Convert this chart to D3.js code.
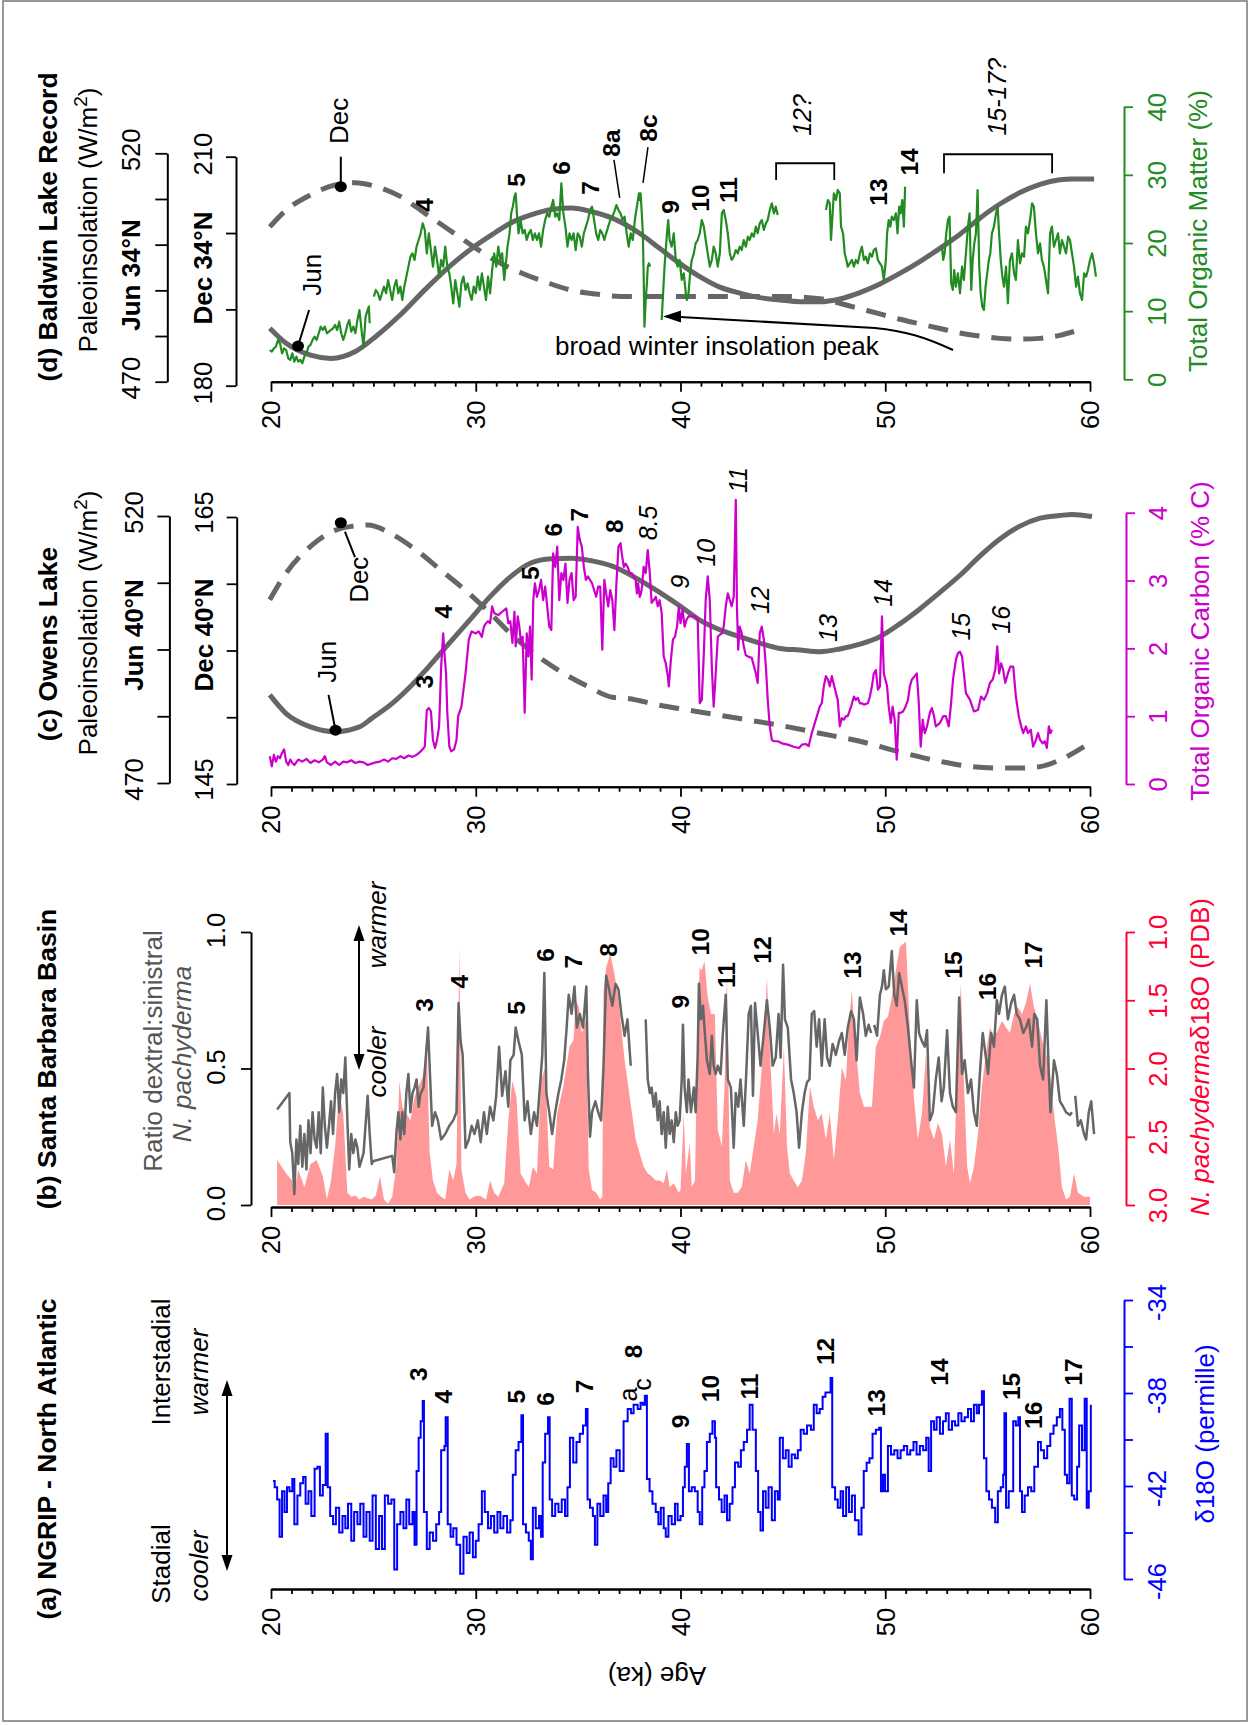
<!DOCTYPE html>
<html><head><meta charset="utf-8">
<script src="https://cdn.jsdelivr.net/npm/d3@7"></script>
<style>body{margin:0;background:#fff}svg{display:block}text{font-family:"Liberation Sans",Arial,Helvetica,sans-serif}</style>
</head><body><svg id="c" width="1249" height="1725"></svg>
<script>
// ---------------- DATA ----------------
const ageMajorTicks = [20,30,40,50,60];
const ageMinorTicks = [21,22,23,24,25,26,27,28,29,31,32,33,34,35,36,37,38,39,41,42,43,44,45,46,47,48,49,51,52,53,54,55,56,57,58,59];
const ngripTicks = [-34,-36,-38,-40,-42,-44,-46];
const ngripLabelTicks = [-34,-38,-42,-46];
const ratioTicks = [0,0.5,1.0];
const pachTicks = [1.0,1.5,2.0,2.5,3.0];
const junCTicks = [470,482.5,495,507.5,520];
const decCTicks = [145,150,155,160,165];
const tocTicks = [0,1,2,3,4];
const junDTicks = [470,480,490,500,510,520];
const decDTicks = [180,190,200,210];
const tomTicks = [0,10,20,30,40];

// (a) NGRIP d18O [age ka, permille]
const ngrip = [[20.10,-41.79],[20.18,-42.05],[20.30,-42.58],[20.42,-44.18],[20.54,-42.23],[20.66,-43.12],[20.78,-42.05],[20.90,-42.23],[21.04,-41.70],[21.14,-43.65],[21.29,-42.41],[21.43,-41.88],[21.57,-41.61],[21.69,-42.76],[21.83,-42.23],[21.97,-43.29],[22.13,-41.26],[22.27,-41.17],[22.39,-42.41],[22.53,-41.96],[22.67,-39.75],[22.77,-42.05],[22.89,-43.29],[23.03,-43.65],[23.17,-42.94],[23.33,-44.0],[23.49,-43.29],[23.63,-43.82],[23.76,-42.76],[23.92,-44.35],[24.06,-43.12],[24.22,-43.65],[24.36,-42.76],[24.52,-44.18],[24.66,-43.12],[24.82,-44.35],[24.96,-42.41],[25.12,-44.71],[25.28,-43.29],[25.42,-44.71],[25.56,-42.41],[25.72,-42.76],[25.88,-42.58],[26.02,-45.59],[26.16,-43.65],[26.32,-43.12],[26.47,-43.82],[26.61,-42.58],[26.75,-43.65],[26.91,-43.12],[27.01,-44.53],[27.11,-41.35],[27.21,-39.93],[27.31,-39.22],[27.41,-38.34],[27.47,-43.12],[27.61,-44.71],[27.75,-44.0],[27.91,-44.35],[28.07,-43.65],[28.21,-43.12],[28.31,-40.46],[28.47,-40.28],[28.53,-39.04],[28.63,-43.65],[28.77,-44.18],[28.90,-43.82],[29.06,-44.53],[29.24,-45.77],[29.40,-44.18],[29.56,-44.88],[29.70,-44.0],[29.86,-45.06],[30.0,-44.35],[30.14,-43.65],[30.30,-42.23],[30.44,-43.12],[30.60,-43.82],[30.74,-43.29],[30.90,-44.0],[31.06,-43.12],[31.20,-43.82],[31.35,-43.29],[31.53,-44.0],[31.69,-43.47],[31.81,-41.52],[31.95,-40.46],[32.09,-40.11],[32.23,-38.96],[32.31,-43.65],[32.45,-44.0],[32.59,-44.35],[32.69,-45.15],[32.79,-42.94],[32.93,-43.82],[33.09,-43.29],[33.19,-44.18],[33.27,-40.99],[33.39,-39.75],[33.53,-39.04],[33.61,-42.58],[33.73,-43.29],[33.88,-42.76],[34.04,-43.12],[34.20,-42.58],[34.36,-43.29],[34.48,-42.05],[34.60,-39.93],[34.76,-40.99],[34.92,-40.11],[35.08,-39.75],[35.24,-39.40],[35.38,-38.69],[35.46,-42.58],[35.58,-42.94],[35.72,-43.29],[35.82,-44.53],[35.94,-42.76],[36.08,-43.29],[36.24,-42.41],[36.37,-43.12],[36.47,-41.88],[36.59,-40.81],[36.73,-41.17],[36.87,-40.46],[37.03,-41.35],[37.22,-39.22],[37.42,-38.69],[37.58,-38.87],[37.71,-38.51],[37.91,-38.69],[38.05,-38.42],[38.16,-38.51],[38.26,-38.12],[38.36,-41.70],[38.49,-42.23],[38.63,-42.76],[38.79,-43.12],[38.92,-43.65],[39.04,-42.94],[39.18,-43.82],[39.28,-44.18],[39.41,-43.29],[39.57,-43.65],[39.73,-42.76],[39.86,-43.47],[40.0,-43.29],[40.12,-42.05],[40.21,-41.17],[40.31,-40.19],[40.41,-42.23],[40.55,-42.05],[40.70,-42.23],[40.84,-43.12],[40.94,-43.65],[41.06,-42.05],[41.17,-41.35],[41.29,-40.11],[41.43,-39.75],[41.56,-39.22],[41.68,-39.93],[41.74,-42.05],[41.88,-42.58],[42.01,-43.12],[42.15,-42.41],[42.27,-43.47],[42.40,-42.76],[42.54,-42.05],[42.66,-40.99],[42.82,-41.17],[42.95,-40.46],[43.09,-40.11],[43.25,-39.58],[43.38,-38.51],[43.52,-39.58],[43.68,-41.35],[43.79,-43.12],[43.91,-43.91],[44.03,-42.23],[44.16,-42.94],[44.30,-42.05],[44.46,-43.47],[44.61,-42.23],[44.75,-42.58],[44.85,-39.93],[45.00,-40.81],[45.14,-40.46],[45.28,-41.17],[45.43,-40.64],[45.59,-40.81],[45.73,-40.46],[45.87,-39.58],[46.02,-39.75],[46.18,-39.40],[46.37,-39.58],[46.51,-38.51],[46.65,-38.87],[46.80,-38.69],[46.94,-38.16],[47.08,-37.98],[47.19,-37.98],[47.33,-37.36],[47.41,-42.05],[47.55,-42.58],[47.68,-42.94],[47.82,-42.23],[47.94,-43.29],[48.09,-42.05],[48.23,-43.12],[48.37,-42.41],[48.52,-43.47],[48.70,-44.09],[48.84,-42.94],[48.95,-41.35],[49.09,-41.0],[49.23,-40.81],[49.38,-39.75],[49.54,-39.58],[49.70,-39.49],[49.79,-42.23],[49.89,-41.52],[49.99,-42.23],[50.13,-40.28],[50.28,-40.64],[50.44,-40.46],[50.60,-40.81],[50.75,-40.46],[50.91,-40.28],[51.07,-40.64],[51.22,-40.46],[51.38,-40.11],[51.53,-40.64],[51.69,-40.28],[51.85,-40.46],[52.0,-39.93],[52.12,-41.35],[52.24,-39.22],[52.38,-39.58],[52.51,-39.04],[52.67,-39.75],[52.82,-39.22],[52.96,-38.87],[53.10,-39.58],[53.26,-39.22],[53.41,-39.40],[53.57,-38.87],[53.72,-39.22],[53.88,-39.04],[54.04,-38.69],[54.19,-39.22],[54.33,-38.51],[54.47,-38.87],[54.58,-38.51],[54.72,-37.93],[54.82,-40.81],[54.94,-42.23],[55.07,-42.58],[55.21,-42.94],[55.37,-43.56],[55.50,-42.23],[55.64,-42.05],[55.76,-41.52],[55.82,-38.87],[55.90,-42.94],[56.03,-42.23],[56.15,-42.23],[56.25,-39.22],[56.38,-39.40],[56.50,-39.04],[56.58,-42.23],[56.68,-43.12],[56.81,-42.41],[56.97,-42.05],[57.13,-42.23],[57.28,-41.17],[57.46,-40.11],[57.60,-40.46],[57.75,-40.81],[57.91,-40.28],[58.06,-39.75],[58.22,-39.40],[58.38,-39.04],[58.53,-38.69],[58.65,-39.58],[58.77,-41.52],[58.88,-41.88],[59.00,-38.25],[59.11,-42.41],[59.23,-42.58],[59.37,-41.17],[59.47,-39.40],[59.61,-40.46],[59.74,-38.25],[59.84,-42.94],[59.94,-42.23],[60.04,-38.51]];

// (b) N. pachyderma d18O (PDB) [age, permille]
const pachD18O = [[20.30,2.67],[20.74,2.77],[21.04,2.82],[21.14,2.91],[21.33,2.74],[21.63,2.87],[21.93,2.70],[22.23,2.67],[22.53,2.79],[22.73,2.96],[22.93,2.82],[23.13,2.57],[23.33,2.18],[23.53,2.33],[23.73,2.91],[23.92,2.94],[24.12,2.93],[24.32,2.96],[24.52,2.94],[24.72,2.95],[24.92,2.96],[25.12,2.93],[25.32,2.79],[25.52,2.96],[25.72,2.99],[25.92,2.94],[26.12,2.72],[26.27,2.09],[26.41,2.28],[26.61,2.33],[26.81,2.38],[27.01,2.21],[27.21,2.13],[27.41,2.06],[27.61,1.84],[27.75,2.62],[27.91,2.82],[28.11,2.91],[28.31,2.94],[28.51,2.96],[28.71,2.74],[28.90,2.82],[29.06,2.70],[29.20,1.11],[29.30,2.74],[29.50,2.91],[29.70,2.96],[29.90,2.94],[30.10,2.93],[30.30,2.94],[30.50,2.96],[30.70,2.82],[30.90,2.91],[31.10,2.94],[31.39,2.84],[31.59,2.38],[31.79,2.09],[31.99,2.21],[32.19,2.77],[32.39,2.82],[32.59,2.87],[32.79,2.72],[32.99,2.77],[33.19,2.09],[33.39,1.99],[33.59,2.72],[33.78,2.74],[33.98,2.33],[34.28,2.13],[34.58,1.84],[34.78,1.79],[34.88,1.50],[35.04,1.55],[35.18,1.74],[35.38,1.65],[35.52,2.74],[35.68,2.89],[35.88,2.91],[36.08,2.96],[36.18,2.94],[36.24,1.43],[36.37,1.26],[36.57,1.16],[36.77,1.30],[36.97,1.50],[37.27,1.94],[37.81,2.52],[38.20,2.72],[38.40,2.77],[38.59,2.79],[38.79,2.82],[38.98,2.82],[39.18,2.84],[39.34,2.74],[39.47,2.87],[39.67,2.84],[39.92,2.91],[40.0,2.89],[40.16,2.33],[40.26,2.77],[40.45,2.55],[40.55,2.87],[40.71,2.82],[40.84,1.60],[40.94,1.26],[41.04,1.28],[41.17,1.21],[41.33,1.48],[41.49,1.60],[41.68,1.60],[41.82,2.45],[42.02,2.57],[42.15,2.13],[42.27,1.30],[42.41,2.82],[42.60,2.91],[42.80,2.91],[42.99,2.87],[43.19,2.67],[43.38,2.77],[43.58,2.57],[43.77,2.38],[43.97,1.99],[44.11,1.72],[44.22,1.33],[44.36,1.84],[44.56,2.48],[44.69,2.33],[44.85,2.48],[45.05,1.84],[45.20,2.57],[45.34,2.77],[45.53,2.82],[45.73,2.87],[45.93,2.82],[46.12,2.62],[46.32,2.13],[46.51,2.28],[46.71,2.38],[46.90,2.33],[47.10,2.52],[47.29,2.33],[47.49,2.67],[47.68,2.38],[47.88,1.99],[48.08,2.09],[48.21,1.70],[48.37,1.43],[48.56,1.84],[48.76,2.18],[48.96,2.28],[49.15,2.28],[49.35,2.28],[49.54,1.84],[49.74,1.77],[49.93,1.65],[50.13,1.62],[50.32,1.48],[50.52,1.28],[50.71,1.11],[51.01,1.07],[51.20,1.72],[51.40,2.21],[51.59,2.52],[51.79,2.33],[51.99,1.89],[52.18,2.43],[52.38,2.52],[52.57,2.40],[52.77,2.48],[52.96,2.72],[53.16,2.52],[53.35,2.77],[53.55,1.84],[53.69,1.38],[53.84,2.09],[54.0,2.72],[54.14,2.84],[54.33,2.72],[54.53,2.48],[54.72,2.13],[54.92,1.89],[55.11,1.70],[55.31,1.77],[55.50,1.72],[55.70,1.65],[55.90,1.70],[56.09,1.74],[56.29,1.60],[56.48,1.55],[56.68,1.60],[56.87,1.52],[57.07,1.38],[57.26,1.55],[57.46,1.65],[57.65,1.79],[57.85,1.89],[58.05,2.04],[58.24,2.33],[58.44,2.57],[58.63,2.87],[58.83,2.96],[59.02,2.94],[59.22,2.77],[59.41,2.91],[59.71,2.94],[60.0,2.94]];

// (b) Ratio dextral:sinistral N. pachyderma [age, ratio]; null = gap
const sbbRatio = [[20.30,0.35],[20.90,0.41],[20.94,0.23],[21.04,0.19],[21.14,0.04],[21.24,0.24],[21.33,0.15],[21.43,0.29],[21.53,0.14],[21.63,0.26],[21.73,0.13],[21.83,0.31],[21.93,0.19],[22.03,0.34],[22.13,0.24],[22.23,0.21],[22.33,0.34],[22.43,0.19],[22.53,0.43],[22.63,0.29],[22.73,0.21],[22.83,0.29],[22.93,0.38],[23.03,0.26],[23.13,0.41],[23.23,0.48],[23.33,0.34],[23.43,0.46],[23.53,0.41],[23.63,0.54],[23.73,0.31],[23.82,0.13],[23.92,0.26],[24.02,0.19],[24.12,0.24],[24.22,0.21],[24.32,0.14],[24.52,0.19],[24.72,0.40],[24.82,0.26],[24.92,0.15],[24.98,0.16],[25.92,0.18],[26.02,0.12],[26.12,0.26],[26.22,0.34],[26.32,0.24],[26.41,0.34],[26.51,0.26],[26.61,0.41],[26.71,0.48],[26.81,0.34],[26.91,0.41],[27.01,0.43],[27.11,0.46],[27.21,0.36],[27.31,0.41],[27.45,0.43],[27.67,0.65],[27.87,0.29],[28.01,0.34],[28.15,0.31],[28.31,0.24],[28.51,0.26],[28.71,0.29],[28.90,0.31],[29.06,0.34],[29.16,0.74],[29.26,0.60],[29.36,0.55],[29.50,0.21],[29.66,0.24],[29.80,0.29],[29.94,0.26],[30.10,0.31],[30.24,0.23],[30.40,0.34],[30.54,0.26],[30.70,0.36],[30.86,0.31],[31.0,0.40],[31.14,0.58],[31.29,0.40],[31.45,0.49],[31.59,0.36],[31.69,0.53],[31.85,0.55],[31.95,0.65],[32.09,0.60],[32.25,0.55],[32.39,0.31],[32.53,0.38],[32.69,0.26],[32.85,0.34],[32.99,0.29],[33.13,0.43],[33.25,0.55],[33.35,0.85],[33.45,0.41],[33.59,0.34],[33.73,0.26],[33.88,0.34],[34.04,0.41],[34.18,0.46],[34.32,0.53],[34.44,0.65],[34.54,0.77],[34.68,0.70],[34.82,0.80],[34.94,0.65],[35.08,0.70],[35.24,0.65],[35.40,0.80],[35.48,0.48],[35.58,0.25],[35.68,0.34],[35.84,0.38],[35.98,0.34],[36.12,0.31],[36.24,0.51],[36.37,0.84],[36.51,0.79],[36.67,0.73],[36.83,0.81],[36.97,0.79],[37.11,0.70],[37.27,0.62],[37.41,0.68],[37.57,0.51],null,[38.30,0.68],[38.40,0.46],[38.50,0.41],[38.59,0.43],[38.69,0.36],[38.79,0.41],[38.89,0.31],[38.98,0.38],[39.08,0.26],[39.18,0.34],[39.28,0.21],[39.38,0.36],[39.47,0.26],[39.57,0.31],[39.67,0.23],[39.77,0.34],[39.86,0.29],[39.96,0.31],[40.06,0.46],[40.12,0.66],[40.20,0.43],[40.31,0.34],[40.39,0.46],[40.51,0.34],[40.65,0.43],[40.74,0.34],[40.84,0.55],[40.90,0.81],[41.0,0.68],[41.10,0.73],[41.17,0.65],[41.29,0.53],[41.43,0.48],[41.53,0.62],[41.62,0.51],[41.72,0.48],[41.82,0.51],[41.96,0.48],[42.07,0.63],[42.21,0.77],[42.31,0.46],[42.46,0.43],[42.60,0.21],[42.70,0.41],[42.82,0.36],[42.93,0.46],[43.09,0.29],[43.21,0.48],[43.33,0.70],[43.44,0.73],[43.54,0.40],[43.64,0.74],[43.77,0.63],[43.91,0.51],[44.07,0.63],[44.22,0.75],[44.36,0.65],[44.50,0.51],[44.65,0.54],[44.79,0.70],[44.89,0.54],[45.01,0.88],[45.10,0.68],[45.24,0.65],[45.40,0.46],[45.53,0.41],[45.67,0.34],[45.79,0.21],[45.93,0.34],[46.06,0.41],[46.18,0.45],[46.30,0.46],[46.41,0.70],[46.53,0.71],[46.65,0.58],[46.77,0.68],[46.90,0.51],[47.04,0.68],[47.16,0.54],[47.29,0.51],[47.43,0.59],[47.59,0.55],[47.74,0.60],[47.88,0.63],[48.02,0.55],[48.17,0.65],[48.33,0.71],[48.47,0.68],[48.60,0.53],[48.76,0.76],[48.92,0.70],[49.05,0.62],[49.19,0.66],[49.31,0.63],null,[49.46,0.66],[49.60,0.62],[49.74,0.77],[49.84,0.80],[49.93,0.86],[50.03,0.79],[50.17,0.80],[50.32,0.93],[50.44,0.77],[50.56,0.73],[50.68,0.85],[50.81,0.80],[50.95,0.75],[51.11,0.65],[51.26,0.53],[51.40,0.43],[51.54,0.75],[51.65,0.63],[51.79,0.60],[51.93,0.58],[52.04,0.64],[52.18,0.31],[52.32,0.34],[52.47,0.46],[52.61,0.54],[52.75,0.38],[52.86,0.43],[53.02,0.64],[53.16,0.41],[53.30,0.36],[53.45,0.34],[53.61,0.76],[53.75,0.48],[53.88,0.53],[54.04,0.41],[54.19,0.46],[54.33,0.34],[54.47,0.29],[54.62,0.48],[54.76,0.63],[54.90,0.55],[55.02,0.48],[55.17,0.63],[55.31,0.58],[55.45,0.75],[55.56,0.70],[55.70,0.77],[55.84,0.80],[55.99,0.68],[56.15,0.74],[56.29,0.77],[56.42,0.70],[56.58,0.68],[56.74,0.63],[56.87,0.65],[57.01,0.68],[57.17,0.58],[57.28,0.70],[57.42,0.68],[57.56,0.51],[57.71,0.46],[57.87,0.75],[57.99,0.48],[58.07,0.34],[58.24,0.53],[58.38,0.48],[58.53,0.38],[58.69,0.36],[58.83,0.34],[59.02,0.33],[59.12,0.34],null,[59.28,0.40],[59.41,0.29],[59.55,0.31],[59.71,0.26],[59.81,0.24],[59.94,0.34],[60.06,0.38],[60.20,0.26]];

// (c) Owens Lake insolation 40N: June (W/m2) and December (W/m2)
const junOwens = [[19.94,486.5],[20.74,483.0],[21.93,480.5],[23.13,479.6],[24.32,480.5],[24.92,482.1],[25.92,484.9],[26.71,487.7],[27.71,491.8],[28.71,496.2],[29.70,500.5],[30.70,504.9],[31.69,508.6],[32.69,511.2],[33.69,512.0],[34.68,512.1],[35.68,511.6],[36.67,510.6],[38.0,508.0],[38.98,505.7],[39.96,503.2],[40.94,500.5],[41.92,498.7],[42.89,497.4],[43.87,496.2],[44.85,495.2],[45.83,494.9],[46.80,494.6],[47.78,495.1],[48.76,496.0],[49.74,497.4],[50.71,499.8],[51.69,502.6],[52.67,505.7],[53.65,508.9],[54.62,512.5],[55.6,515.7],[56.58,518.1],[57.56,519.6],[58.53,520.1],[59.12,520.3],[60.1,519.9]];
const decOwens = [[19.94,158.8],[20.74,160.8],[21.93,162.8],[23.13,164.0],[23.92,164.3],[24.72,164.4],[25.92,163.7],[27.11,162.5],[28.31,161.0],[29.50,159.5],[30.70,157.8],[31.89,156.0],[33.09,154.5],[34.28,153.3],[35.48,152.3],[36.67,151.5],[37.42,151.4],[38.98,150.9],[40.94,150.4],[42.89,149.9],[44.85,149.4],[46.80,148.8],[48.76,148.2],[50.71,147.4],[52.67,146.7],[54.23,146.3],[55.6,146.2],[56.58,146.2],[57.56,146.3],[58.53,146.8],[59.71,147.8]];

// (c) Owens Lake total organic carbon (% C)
const owensTOC = [[19.94,0.41],[20.04,0.26],[20.14,0.43],[20.24,0.33],[20.34,0.41],[20.44,0.38],[20.54,0.46],[20.64,0.51],[20.74,0.33],[20.84,0.28],[20.94,0.36],[21.04,0.31],[21.14,0.28],[21.33,0.36],[21.53,0.33],[21.73,0.37],[21.93,0.31],[22.13,0.35],[22.33,0.32],[22.53,0.36],[22.63,0.41],[22.73,0.32],[22.93,0.28],[23.13,0.33],[23.33,0.28],[23.53,0.33],[23.73,0.32],[23.92,0.35],[24.12,0.31],[24.32,0.33],[24.52,0.32],[24.72,0.28],[24.92,0.30],[25.12,0.32],[25.32,0.33],[25.52,0.36],[25.72,0.33],[25.92,0.38],[26.12,0.37],[26.32,0.41],[26.51,0.38],[26.71,0.42],[26.91,0.40],[27.11,0.43],[27.31,0.48],[27.51,0.55],[27.61,1.09],[27.71,1.12],[27.81,1.07],[27.91,0.65],[28.01,0.53],[28.11,0.65],[28.21,0.85],[28.31,1.73],[28.41,2.22],[28.47,1.93],[28.55,1.63],[28.61,1.05],[28.71,0.55],[28.80,0.48],[28.94,0.51],[29.06,0.65],[29.14,1.0],[29.30,1.14],[29.50,1.63],[29.66,2.13],[29.80,2.25],[30.0,2.22],[30.14,2.25],[30.30,2.17],[30.40,2.32],[30.50,2.37],[30.60,2.40],[30.70,2.37],[30.80,2.62],[30.90,2.52],[31.10,2.49],[31.29,2.54],[31.49,2.59],[31.59,2.37],[31.69,2.40],[31.79,2.08],[31.89,2.54],[31.95,2.03],[32.05,2.47],[32.13,2.32],[32.21,2.08],[32.29,2.17],[32.39,1.05],[32.49,2.22],[32.57,1.88],[32.65,2.32],[32.73,1.54],[32.81,2.71],[32.89,2.96],[32.99,2.76],[33.09,2.86],[33.19,3.01],[33.29,2.71],[33.39,2.91],[33.49,2.62],[33.59,2.32],[33.69,2.27],[33.78,3.40],[33.88,3.20],[33.98,3.50],[34.08,2.71],[34.18,3.11],[34.28,3.01],[34.38,3.25],[34.48,2.67],[34.58,3.01],[34.68,3.11],[34.78,2.71],[34.88,2.76],[34.98,3.79],[35.08,3.60],[35.18,3.50],[35.28,3.20],[35.38,3.01],[35.48,3.06],[35.68,2.96],[35.88,2.76],[35.98,2.91],[36.08,2.91],[36.18,1.98],[36.28,3.01],[36.37,2.81],[36.47,2.62],[36.57,2.86],[36.67,2.71],[36.77,2.27],[36.87,2.96],[36.97,3.50],[37.07,3.55],[37.13,3.40],[37.23,3.20],[37.32,3.25],[37.42,3.20],[37.52,3.11],[37.62,3.11],[37.71,3.06],[37.81,3.01],[37.87,2.81],[37.93,2.96],[38.01,2.76],[38.07,2.81],[38.12,2.91],[38.20,3.20],[38.30,3.11],[38.40,3.45],[38.50,3.11],[38.59,2.67],[38.69,2.71],[38.79,2.76],[38.89,2.62],[38.98,2.71],[39.08,2.52],[39.18,1.88],[39.28,1.78],[39.38,1.59],[39.43,1.44],[39.53,1.83],[39.63,2.13],[39.73,2.17],[39.83,2.32],[39.92,2.62],[40.0,2.37],[40.10,2.57],[40.20,2.32],[40.29,2.42],[40.39,2.47],[40.55,2.47],[40.74,2.47],[40.84,2.42],[40.94,1.19],[41.04,1.24],[41.14,1.93],[41.23,2.71],[41.33,3.06],[41.43,2.71],[41.53,1.73],[41.62,1.14],[41.72,1.63],[41.82,2.17],[41.92,2.20],[42.02,2.22],[42.11,2.32],[42.21,2.62],[42.31,2.81],[42.41,2.71],[42.50,2.62],[42.60,2.76],[42.70,4.19],[42.76,2.57],[42.82,1.98],[42.89,2.32],[42.99,2.22],[43.09,2.03],[43.19,1.90],[43.29,1.88],[43.48,1.86],[43.68,1.63],[43.77,1.49],[43.87,2.22],[43.97,2.32],[44.07,2.13],[44.17,1.73],[44.26,1.24],[44.36,0.85],[44.46,0.65],[44.56,0.63],[44.75,0.63],[44.95,0.60],[45.24,0.58],[45.53,0.55],[45.79,0.53],[45.93,0.58],[46.12,0.59],[46.26,0.56],[46.41,0.75],[46.61,0.95],[46.80,1.14],[46.90,1.19],[47.0,1.44],[47.10,1.59],[47.20,1.54],[47.29,1.44],[47.39,1.59],[47.59,1.34],[47.68,1.24],[47.78,0.85],[47.88,0.97],[47.98,0.95],[48.08,1.0],[48.17,1.0],[48.33,1.14],[48.47,1.29],[48.56,1.24],[48.66,1.27],[48.76,1.19],[48.86,1.19],[48.96,1.17],[49.15,1.19],[49.25,1.29],[49.35,1.44],[49.44,1.63],[49.54,1.68],[49.64,1.39],[49.74,1.44],[49.84,2.47],[49.93,1.63],[50.09,1.44],[50.17,1.14],[50.27,0.90],[50.36,1.14],[50.46,0.95],[50.56,0.36],[50.66,1.05],[50.75,1.05],[50.87,1.07],[50.99,1.14],[51.11,1.24],[51.20,1.44],[51.30,1.54],[51.44,1.59],[51.54,1.63],[51.63,1.24],[51.73,0.55],[51.83,0.95],[51.93,0.75],[52.04,0.85],[52.18,1.05],[52.28,1.12],[52.38,1.0],[52.47,0.85],[52.67,0.90],[52.83,1.0],[52.96,1.0],[53.10,0.85],[53.20,1.14],[53.31,1.54],[53.45,1.83],[53.55,1.93],[53.65,1.95],[53.75,1.88],[53.84,1.63],[53.94,1.34],[54.14,1.24],[54.33,1.07],[54.53,1.09],[54.68,1.29],[54.82,1.24],[54.98,1.34],[55.11,1.49],[55.25,1.54],[55.37,1.68],[55.47,2.03],[55.56,1.63],[55.66,1.78],[55.76,1.68],[55.86,1.49],[55.99,1.63],[56.11,1.73],[56.25,1.73],[56.38,1.29],[56.52,1.0],[56.64,0.85],[56.74,0.75],[56.87,0.85],[56.97,0.75],[57.11,0.80],[57.22,0.55],[57.36,0.65],[57.46,0.75],[57.56,0.65],[57.69,0.60],[57.79,0.63],[57.89,0.53],[57.99,0.85],[58.07,0.75],[58.14,0.80]];

// (d) Baldwin Lake insolation 34N: June and December (W/m2)
const junBaldwin = [[19.94,481.7],[20.74,478.4],[21.93,475.8],[22.93,475.1],[24.12,476.6],[25.12,479.9],[26.31,484.6],[27.51,490.1],[28.71,495.2],[29.90,499.5],[30.90,502.5],[31.69,504.7],[32.69,506.5],[33.69,507.7],[34.68,508.0],[35.68,507.2],[36.67,505.8],[38.0,502.5],[38.98,499.2],[39.96,495.9],[40.94,493.0],[41.92,490.7],[42.89,489.4],[43.87,488.4],[44.85,487.9],[45.83,487.5],[46.80,487.5],[47.78,488.1],[48.76,489.5],[49.74,491.4],[50.71,493.7],[51.69,496.3],[52.67,499.2],[53.65,502.3],[54.62,505.8],[55.6,508.9],[56.58,511.4],[57.56,513.2],[58.53,514.2],[59.12,514.4],[60.2,514.4]];
const decBaldwin = [[19.94,200.8],[20.74,203.0],[21.93,205.0],[23.13,206.3],[24.12,206.6],[25.12,206.1],[26.31,204.8],[27.51,202.6],[28.71,200.4],[29.90,198.2],[31.10,196.2],[32.29,194.7],[33.49,193.5],[34.68,192.5],[35.88,192.0],[37.07,191.7],[40.0,191.7],[44.85,191.7],[46.80,191.4],[47.78,190.8],[48.76,190.1],[49.74,189.4],[50.71,188.7],[51.69,188.1],[52.67,187.5],[53.65,186.9],[54.62,186.5],[55.6,186.2],[56.58,186.1],[57.56,186.2],[58.53,186.6],[59.22,187.1]];

// (d) Baldwin Lake total organic matter (%); null = gap
const baldwinTOM = [[19.94,4.3],[20.04,4.06],[20.14,4.55],[20.24,4.79],[20.34,5.77],[20.44,5.28],[20.54,3.81],[20.64,4.55],[20.74,4.3],[20.84,3.08],[20.94,2.84],[21.04,3.81],[21.14,2.59],[21.24,3.33],[21.33,2.59],[21.43,2.84],[21.53,2.35],[21.63,3.33],[21.73,3.81],[21.83,4.79],[21.93,5.04],[22.03,5.77],[22.13,6.26],[22.23,5.77],[22.33,6.75],[22.43,7.73],[22.53,7.24],[22.63,7.73],[22.73,6.75],[22.83,6.99],[22.93,7.24],[23.03,7.48],[23.13,7.97],[23.23,7.24],[23.33,8.46],[23.43,6.75],[23.53,5.77],[23.63,6.75],[23.73,7.97],[23.82,8.70],[23.92,6.99],[24.02,7.73],[24.12,6.75],[24.22,8.70],[24.32,10.17],[24.42,7.24],[24.52,4.79],[24.62,9.19],[24.72,10.17],[24.78,10.66],[24.82,8.22],null,[25.02,12.13],[25.12,13.11],[25.22,12.62],[25.32,11.64],[25.42,12.62],[25.52,13.59],[25.62,12.62],[25.72,14.57],[25.82,13.11],[25.92,11.64],[26.02,13.59],[26.12,14.57],[26.22,12.62],[26.32,13.59],[26.41,11.64],[26.51,13.59],[26.61,15.06],[26.71,16.53],[26.81,17.99],[26.91,18.48],[27.01,17.51],[27.11,19.46],[27.21,20.44],[27.31,21.42],[27.41,22.88],[27.51,21.91],[27.61,18.48],[27.71,21.42],[27.81,18.97],[27.91,16.53],[28.01,19.46],[28.11,17.51],[28.21,15.06],[28.31,17.51],[28.41,16.53],[28.51,19.46],[28.61,16.53],[28.71,15.55],[28.80,13.59],[28.90,11.15],[29.0,14.57],[29.10,12.62],[29.20,10.66],[29.30,14.08],[29.40,15.06],[29.50,13.11],[29.60,14.08],[29.70,12.62],[29.80,11.64],[29.90,13.59],[30.0,12.62],[30.10,15.06],[30.20,13.11],[30.30,15.55],[30.40,13.59],[30.50,11.64],[30.60,15.06],[30.70,12.62],[30.80,16.04],[30.90,18.48],[31.0,16.53],[31.10,19.46],[31.20,17.51],[31.29,18.48],[31.39,14.57],[31.49,17.51],[31.55,19.46],[31.65,21.42],[31.73,24.35],[31.81,25.33],[31.89,26.80],[31.95,27.29],[32.01,24.35],[32.09,21.42],[32.19,23.37],[32.29,21.42],[32.39,21.91],[32.49,20.44],[32.59,21.42],[32.69,21.91],[32.79,20.44],[32.89,21.42],[32.99,20.44],[33.09,21.42],[33.19,19.46],[33.29,21.91],[33.39,23.37],[33.49,24.35],[33.59,23.86],[33.69,25.33],[33.78,26.31],[33.88,23.86],[33.98,24.35],[34.08,23.37],[34.18,28.75],[34.28,24.35],[34.38,22.40],[34.48,19.46],[34.58,21.42],[34.68,20.44],[34.78,21.42],[34.88,18.97],[34.98,21.42],[35.08,20.93],[35.18,19.46],[35.28,21.42],[35.38,22.40],[35.48,23.37],[35.58,24.84],[35.68,25.33],[35.78,23.37],[35.88,21.42],[35.98,20.44],[36.08,21.91],[36.18,21.42],[36.28,20.44],[36.37,21.42],[36.47,22.40],[36.57,23.37],[36.67,23.86],[36.77,24.60],[36.87,25.57],[36.97,24.84],[37.07,24.35],[37.17,23.37],[37.27,23.86],[37.37,21.42],[37.47,19.46],[37.57,21.42],[37.67,20.44],[37.77,23.37],[37.87,25.33],[37.97,27.29],[38.01,26.31],[38.05,27.29],[38.11,24.35],[38.16,21.42],[38.20,15.55],[38.24,7.73],[38.30,11.64],[38.36,14.08],[38.40,16.53],[38.46,17.02],[38.52,16.53],null,[39.08,8.70],[39.22,16.53],[39.34,21.42],[39.40,23.37],[39.47,20.44],[39.57,19.46],[39.67,21.42],[39.77,17.51],[39.86,16.53],[39.96,17.51],[40.06,14.57],[40.16,15.55],[40.26,12.62],[40.31,11.64],[40.39,12.62],[40.47,15.55],[40.55,17.51],[40.65,18.48],[40.74,19.95],[40.84,20.44],[40.94,21.42],[41.04,23.37],[41.14,22.40],[41.23,20.44],[41.33,18.48],[41.43,16.53],[41.53,17.51],[41.62,19.46],[41.72,18.48],[41.82,16.53],[41.92,18.48],[42.02,24.35],[42.11,24.84],[42.21,23.37],[42.31,21.42],[42.41,18.48],[42.50,17.51],[42.60,17.99],[42.70,18.97],[42.80,18.48],[42.89,19.46],[42.99,18.97],[43.09,20.44],[43.19,19.46],[43.29,20.93],[43.38,20.44],[43.48,21.42],[43.58,20.93],[43.68,22.40],[43.77,21.42],[43.87,22.88],[43.97,23.37],[44.07,21.91],[44.17,22.88],[44.26,23.37],[44.36,24.84],[44.46,25.82],[44.56,24.35],[44.65,25.33],[44.75,24.11],null,[47.10,24.84],[47.20,26.31],[47.29,25.82],[47.35,20.44],[47.43,24.35],[47.49,27.29],[47.59,26.31],[47.68,27.78],[47.78,27.29],[47.84,22.40],[47.94,21.42],[48.02,18.48],[48.10,17.51],[48.17,16.53],[48.27,17.02],[48.37,17.51],[48.47,16.53],[48.56,17.51],[48.66,17.02],[48.76,18.48],[48.86,19.46],[48.96,17.51],[49.05,17.99],[49.15,17.02],[49.25,18.48],[49.35,17.99],[49.44,18.97],[49.54,19.22],[49.64,17.51],[49.74,17.02],[49.84,16.53],[49.93,14.57],[50.03,17.51],[50.09,21.42],[50.17,23.37],[50.25,22.40],[50.32,23.86],[50.42,23.37],[50.52,24.35],[50.60,21.42],[50.68,25.33],[50.75,24.35],[50.83,26.31],[50.91,22.40],[50.97,28.26],null,[52.77,19.46],[52.83,17.51],[52.90,18.48],[52.98,21.42],[53.06,23.37],[53.14,23.86],[53.22,14.08],[53.30,13.11],[53.37,16.04],[53.45,13.59],[53.55,15.55],[53.65,12.62],[53.75,16.53],[53.84,14.57],[53.94,18.48],[54.04,22.40],[54.12,24.35],[54.20,13.11],[54.27,17.51],[54.35,19.95],[54.43,21.42],[54.51,27.78],[54.59,16.53],[54.66,12.62],[54.74,10.66],[54.82,10.17],[54.90,13.59],[54.98,15.55],[55.06,17.51],[55.13,18.48],[55.21,21.42],[55.31,22.40],[55.41,24.35],[55.49,25.33],[55.56,21.42],[55.64,17.51],[55.72,15.06],[55.80,13.59],[55.90,16.53],[55.99,11.15],[56.09,17.51],[56.19,18.48],[56.29,15.55],[56.38,14.57],[56.48,20.44],[56.58,17.02],[56.68,18.48],[56.78,17.99],[56.87,22.40],[56.97,21.42],[57.07,23.37],[57.17,25.82],[57.26,25.33],[57.36,21.42],[57.46,18.48],[57.56,19.95],[57.65,17.51],[57.75,16.53],[57.85,14.57],[57.95,12.62],[58.05,21.42],[58.14,22.40],[58.24,19.46],[58.34,20.44],[58.44,21.42],[58.53,18.48],[58.63,20.44],[58.73,19.46],[58.83,18.48],[58.93,20.93],[59.02,20.44],[59.22,16.53],[59.32,13.59],[59.41,15.06],[59.51,12.62],[59.61,11.64],[59.71,15.55],[59.81,15.06],[59.90,16.04],[60.0,17.51],[60.10,18.48],[60.20,17.02],[60.29,15.06]];

// Event labels [text, age, value]
const labelsA = [["3",27.18,-37.19],["4",28.40,-38.16],["5",31.97,-38.16],["6",33.38,-38.25],["7",35.29,-37.72],["8",37.68,-36.21],["9",39.98,-39.22],["10",41.44,-37.81],["11",43.39,-37.72],["12",47.10,-36.21],["13",49.55,-38.42],["14",52.67,-37.10],["15",56.14,-37.72],["16",57.22,-38.96],["17",59.17,-37.10]];
const labelsAsub = [["a",37.47,-38.07],["c",38.12,-37.63]];
const labelsB = [["3",27.50,0.733],["4",29.18,0.818],["5",31.97,0.722],["6",33.38,0.916],["7",34.77,0.891],["8",36.46,0.934],["9",39.98,0.745],["10",40.95,0.964],["11",42.22,0.842],["12",43.98,0.934],["13",48.41,0.879],["14",50.66,1.033],["15",53.31,0.879],["16",54.97,0.80],["17",57.22,0.916]];
const labelsCbold = [["3",27.50,1.51],["4",28.40,2.54],["5",32.68,3.11],["6",33.77,3.75],["7",35.07,3.97],["8",36.75,3.80]];
const labelsCital = [["8.5",38.41,3.85],["9",39.98,2.98],["10",41.25,3.41],["11",42.81,4.48],["12",43.88,2.71],["13",47.23,2.30],["14",49.88,2.82],["15",53.70,2.32],["16",55.65,2.42]];
const labelsD = [["4",27.50,25.58],["5",31.97,29.24],["6",34.16,31.0],["7",35.58,28.07],["8a",36.65,34.67],["8c",38.41,36.87],["9",39.49,25.28],["10",40.95,26.60],["11",42.32,27.78],["13",49.68,27.48],["14",51.16,31.89]];
const labelsDital = [["12?",45.96,38.78],["15-17?",55.46,41.47]];
const bracketsD = [[44.67,47.51,31.70,29.24],[52.87,58.15,33.02,30.23]];
const leadersD = [[36.75,32.19,37.03,26.61],[38.41,34.08,38.17,28.82]];

// ---------------- DRAW ----------------
const svg = d3.select("#c");
const FONT = '"Liberation Sans",Arial,Helvetica,sans-serif';
svg.append("rect").attr("x",3).attr("y",1).attr("width",1244).attr("height",1720)
  .attr("fill","#fff").attr("stroke","#777").attr("stroke-width",1.5);

const x = d3.scaleLinear().domain([20,60]).range([271,1090]);
const GRAY="#666666", BLUE="#0000ff", RED="#ff0033", PINK="#ff9999", MAG="#cc00cc", GREEN="#228b22";
const plain = d => String(d);
const oneDec = d3.format(".1f");

function rtext(px, py, s, o={}) {
  const t = svg.append("text")
    .attr("transform",`translate(${px},${py}) rotate(${o.rot ?? -90})`)
    .attr("text-anchor", o.anchor || "middle").attr("dy", o.dy || "0.35em")
    .attr("font-size", o.size || 26).attr("fill", o.color || "#000");
  if (o.bold) t.attr("font-weight","bold");
  if (o.italic) t.attr("font-style","italic");
  if (s !== null) t.text(s);
  return t;
}

function styleAxis(g, color, orient, off, shift) {
  g.attr("font-size", null).attr("font-family", null).attr("fill", null);
  g.select(".domain").attr("stroke", color).attr("stroke-width", 2);
  g.selectAll(".tick line").attr("stroke", color).attr("stroke-width", 1.8);
  g.selectAll(".tick text").attr("fill", color).attr("font-size", 25.5).attr("font-family", FONT)
    .attr("x", null).attr("y", null).attr("dy", "0.35em").attr("text-anchor", "middle")
    .attr("transform", orient === "bottom" ? `translate(0,${off}) rotate(-90)` : `translate(${off},${shift||0}) rotate(-90)`);
}

function ageAxis(y0) {
  const gm = svg.append("g").attr("transform", `translate(0,${y0})`)
    .call(d3.axisBottom(x).tickValues(ageMinorTicks).tickSize(5).tickSizeOuter(0).tickFormat(() => ""));
  styleAxis(gm, "#000", "bottom", 0);
  const g = svg.append("g").attr("transform", `translate(0,${y0})`)
    .call(d3.axisBottom(x).tickValues(ageMajorTicks).tickSize(10).tickSizeOuter(0).tickFormat(plain));
  styleAxis(g, "#000", "bottom", 33);
}

function vAxis(scale, px, side, ticks, labelSet, fmt, color, off, tlen, shift) {
  const gen = (side === "left" ? d3.axisLeft(scale) : d3.axisRight(scale))
    .tickValues(ticks).tickSize(tlen || 10).tickSizeOuter(0)
    .tickFormat(d => labelSet.includes(d) ? fmt(d) : "");
  const g = svg.append("g").attr("transform", `translate(${px},0)`).call(gen);
  styleAxis(g, color, side, off, shift);
  return g;
}

function arrowV(px, y1, y2) {
  const h = 16, w = 5.5;
  svg.append("line").attr("x1",px).attr("x2",px).attr("y1",y1+h-2).attr("y2",y2-h+2).attr("stroke","#000").attr("stroke-width",2);
  svg.append("path").attr("d",`M${px},${y1}L${px-w},${y1+h}L${px+w},${y1+h}Z`).attr("fill","#000");
  svg.append("path").attr("d",`M${px},${y2}L${px-w},${y2-h}L${px+w},${y2-h}Z`).attr("fill","#000");
}

const lineOf = (ys, curve) => d3.line().defined(d => d !== null)
  .x(d => x(d[0])).y(d => ys(d[1])).curve(curve || d3.curveLinear);

// ===== Panel (a) NGRIP =====
const yA = d3.scaleLinear().domain([-46,-34]).range([1579,1300]);
svg.append("path").datum(ngrip).attr("d", lineOf(yA, d3.curveStepAfter))
  .attr("fill","none").attr("stroke",BLUE).attr("stroke-width",2);
ageAxis(1589);
vAxis(yA, 1124, "right", ngripTicks, ngripLabelTicks, plain, BLUE, 33, 9, 2);
rtext(1205, 1434, "δ18O (permille)", {color: BLUE});
labelsA.forEach(([t,a,v]) => rtext(x(a), yA(v), t, {bold:true, size:24.5}));
labelsAsub.forEach(([t,a,v]) => rtext(x(a), yA(v), t, {size:25}));
rtext(47, 1459, "(a) NGRIP - North Atlantic", {bold:true, size:26.5});
rtext(161, 1362, "Interstadial");
rtext(161, 1564, "Stadial");
rtext(199, 1372, "warmer", {italic:true});
rtext(199, 1566, "cooler", {italic:true});
arrowV(227, 1380, 1571);
rtext(657, 1676, "Age (ka)", {rot:180});

// ===== Panel (b) Santa Barbara Basin =====
const yRatio = d3.scaleLinear().domain([0,1]).range([1205,932]);
const yPach = d3.scaleLinear().domain([3,1]).range([1205,932]);
svg.append("path").datum(pachD18O)
  .attr("d", d3.area().x(d => x(d[0])).y0(yPach(3)).y1(d => yPach(d[1])))
  .attr("fill", PINK).attr("stroke","none");
svg.append("path").datum(sbbRatio).attr("d", lineOf(yRatio))
  .attr("fill","none").attr("stroke",GRAY).attr("stroke-width",2.5).attr("stroke-linejoin","round");
ageAxis(1207);
vAxis(yRatio, 251, "left", ratioTicks, ratioTicks, oneDec, "#000", -35, 10, -2);
vAxis(yPach, 1126, "right", pachTicks, pachTicks, oneDec, RED, 32, 9);
{
  const t = rtext(1199.6, 1057, null, {color: RED});
  t.append("tspan").attr("font-style","italic").text("N. pachyderma");
  t.append("tspan").text("δ18O (PDB)");
}
labelsB.forEach(([t,a,v]) => rtext(x(a), yRatio(v), t, {bold:true, size:24.5}));
rtext(47, 1059, "(b) Santa Barbara Basin", {bold:true, size:26.5});
rtext(153, 1051, "Ratio dextral:sinistral", {color:"#555"});
rtext(182, 1054, "N. pachyderma", {color:"#555", italic:true});
rtext(377, 925, "warmer", {italic:true});
rtext(377, 1062, "cooler", {italic:true});
arrowV(359, 925, 1070);

// ===== Panel (c) Owens Lake =====
const yJunC = d3.scaleLinear().domain([470,520]).range([783,516]);
const yDecC = d3.scaleLinear().domain([145,165]).range([784,517]);
const yToc = d3.scaleLinear().domain([0,4]).range([784,512.7]);
svg.append("path").datum(junOwens).attr("d", lineOf(yJunC, d3.curveMonotoneX))
  .attr("fill","none").attr("stroke",GRAY).attr("stroke-width",5);
svg.append("path").datum(decOwens).attr("d", lineOf(yDecC, d3.curveMonotoneX))
  .attr("fill","none").attr("stroke",GRAY).attr("stroke-width",5).attr("stroke-dasharray","20,12");
svg.append("path").datum(owensTOC).attr("d", lineOf(yToc))
  .attr("fill","none").attr("stroke",MAG).attr("stroke-width",2.2).attr("stroke-linejoin","round");
ageAxis(786.7);
vAxis(yJunC, 169.4, "left", junCTicks, [470,520], plain, "#000", -35, 12, -4);
vAxis(yDecC, 236.7, "left", decCTicks, [145,165], plain, "#000", -33, 10, -5);
vAxis(yToc, 1126, "right", tocTicks, tocTicks, plain, MAG, 32, 9);
rtext(1199.6, 641, "Total Organic Carbon (% C)", {color: MAG});
labelsCbold.forEach(([t,a,v]) => rtext(x(a), yToc(v), t, {bold:true, size:24.5}));
labelsCital.forEach(([t,a,v]) => rtext(x(a), yToc(v), t, {italic:true, size:25}));
rtext(48, 644, "(c) Owens Lake", {bold:true, size:26.5});
{
  const t = rtext(88, 623, null);
  t.append("tspan").text("Paleoinsolation (W/m");
  t.append("tspan").attr("baseline-shift","super").attr("font-size",19).text("2");
  t.append("tspan").text(")");
}
rtext(134, 635, "Jun 40°N", {bold:true});
rtext(204, 635, "Dec 40°N", {bold:true});
// Jun / Dec markers
svg.append("line").attr("x1",x(23.15)).attr("y1",yJunC(479.9)).attr("x2",x(22.81)).attr("y2",yJunC(486.5)).attr("stroke","#000").attr("stroke-width",2);
svg.append("ellipse").attr("cx",x(23.15)).attr("cy",yJunC(479.9)).attr("rx",6).attr("ry",5.5).attr("fill","#000");
rtext(x(22.71), yJunC(492.7), "Jun");
svg.append("line").attr("x1",x(23.61)).attr("y1",yDecC(163.9)).attr("x2",x(24.10)).attr("y2",yDecC(162.0)).attr("stroke","#000").attr("stroke-width",2);
svg.append("ellipse").attr("cx",x(23.41)).attr("cy",yDecC(164.57)).attr("rx",6).attr("ry",5.5).attr("fill","#000");
rtext(x(24.30), yDecC(160.3), "Dec");

// ===== Panel (d) Baldwin Lake =====
const yJunD = d3.scaleLinear().domain([470,520]).range([381.7,153.3]);
const yDecD = d3.scaleLinear().domain([180,210]).range([385.7,156.7]);
const yTom = d3.scaleLinear().domain([0,40]).range([379.3,106.7]);
svg.append("path").datum(decBaldwin).attr("d", lineOf(yDecD, d3.curveMonotoneX))
  .attr("fill","none").attr("stroke",GRAY).attr("stroke-width",5).attr("stroke-dasharray","20,12");
svg.append("path").datum(junBaldwin).attr("d", lineOf(yJunD, d3.curveMonotoneX))
  .attr("fill","none").attr("stroke",GRAY).attr("stroke-width",5);
svg.append("path").datum(baldwinTOM).attr("d", lineOf(yTom))
  .attr("fill","none").attr("stroke",GREEN).attr("stroke-width",2.2).attr("stroke-linejoin","round");
ageAxis(381.7);
vAxis(yJunD, 167.3, "left", junDTicks, [470,520], plain, "#000", -36, 12, -4);
vAxis(yDecD, 236, "left", decDTicks, [180,210], plain, "#000", -33, 10, -3);
vAxis(yTom, 1124, "right", tomTicks, tomTicks, plain, GREEN, 33.5, 9);
rtext(1197.6, 231, "Total Organic Matter (%)", {color: GREEN});
labelsD.forEach(([t,a,v]) => rtext(x(a), yTom(v), t, {bold:true, size:24.5}));
labelsDital.forEach(([t,a,v]) => rtext(x(a), yTom(v), t, {italic:true, size:25}));
leadersD.forEach(([a1,v1,a2,v2]) => svg.append("line").attr("x1",x(a1)).attr("y1",yTom(v1)).attr("x2",x(a2)).attr("y2",yTom(v2)).attr("stroke","#000").attr("stroke-width",1.5));
bracketsD.forEach(([a1,a2,top,bot]) => svg.append("path")
  .attr("d",`M${x(a1)},${yTom(bot)}V${yTom(top)}H${x(a2)}V${yTom(bot)}`)
  .attr("fill","none").attr("stroke","#000").attr("stroke-width",1.8));
rtext(48, 227, "(d) Baldwin Lake Record", {bold:true, size:26.5});
{
  const t = rtext(88, 220, null);
  t.append("tspan").text("Paleoinsolation (W/m");
  t.append("tspan").attr("baseline-shift","super").attr("font-size",19).text("2");
  t.append("tspan").text(")");
}
rtext(131, 275, "Jun 34°N", {bold:true});
rtext(203, 268, "Dec 34°N", {bold:true});
svg.append("line").attr("x1",x(21.32)).attr("y1",yJunD(477.8)).attr("x2",x(21.86)).attr("y2",yJunD(485.7)).attr("stroke","#000").attr("stroke-width",2);
svg.append("ellipse").attr("cx",x(21.32)).attr("cy",yJunD(477.8)).attr("rx",6).attr("ry",5.5).attr("fill","#000");
rtext(x(22.0), yJunD(493.4), "Jun");
svg.append("line").attr("x1",x(23.41)).attr("y1",yDecD(206.07)).attr("x2",x(23.41)).attr("y2",yDecD(210.0)).attr("stroke","#000").attr("stroke-width",2);
svg.append("ellipse").attr("cx",x(23.41)).attr("cy",yDecD(206.07)).attr("rx",6).attr("ry",5.5).attr("fill","#000");
rtext(x(23.32), yDecD(214.7), "Dec");
// broad winter insolation peak annotation
svg.append("text").attr("x",555).attr("y",355).attr("font-size",26).attr("fill","#000").text("broad winter insolation peak");
svg.append("path").attr("d","M953,350C925,337 905,331 875,328L680,317")
  .attr("fill","none").attr("stroke","#000").attr("stroke-width",2);
svg.append("path").attr("d","M663,316.5L681,310.5L681,322.5Z").attr("fill","#000");
</script></body></html>
